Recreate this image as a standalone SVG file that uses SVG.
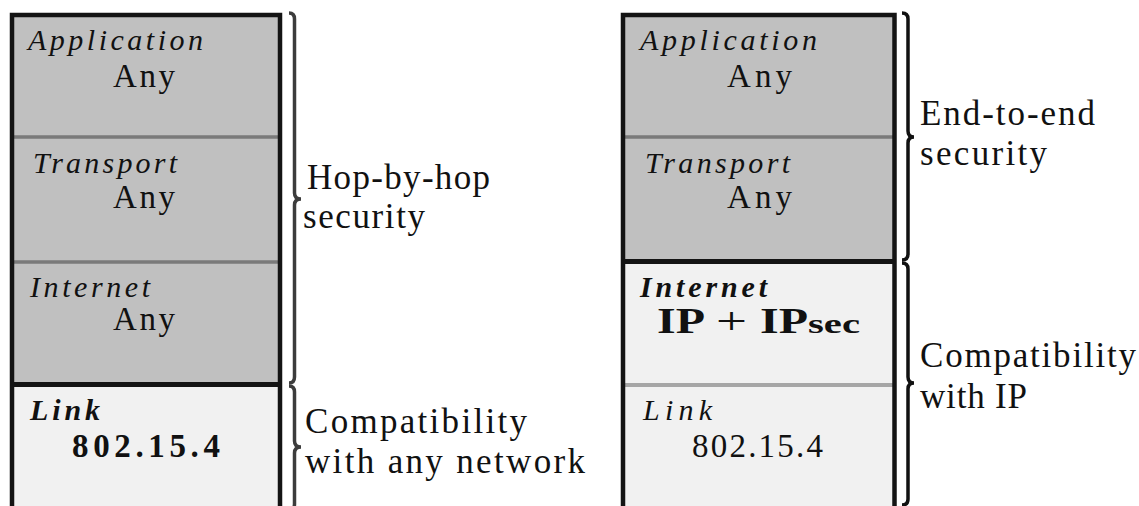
<svg xmlns="http://www.w3.org/2000/svg" width="1139" height="506" viewBox="0 0 1139 506">
  <style>
    .t { font-family: "Liberation Serif", "DejaVu Serif", serif; fill: #111; }
    .lbl { font-size: 30px; font-style: italic; }
    .lblb { font-size: 30px; font-style: italic; font-weight: bold; }
    .val { font-size: 33px; }
    .valb { font-size: 33px; font-weight: bold; }
    .ipsec { font-size: 35px; font-weight: bold; }
    .plus { font-size: 38px; }
    .small { font-size: 27px; font-weight: bold; }
    .note { font-size: 35px; }
    .dark { fill: #c0c0c0; }
    .light { fill: #f1f1f1; }
    .div-soft { stroke: #7a7a7a; stroke-width: 3.5; }
    .div-pale { stroke: #a6a6a6; stroke-width: 4; }
    .div-hard { stroke: #141414; stroke-width: 5; }
    .frame { fill: none; stroke: #141414; stroke-width: 4.5; }
    .brace-l { fill: none; stroke: #3c3c3c; stroke-width: 3.5; }
    .brace-r { fill: none; stroke: #111; stroke-width: 3.5; }
  </style>

  <rect x="0" y="0" width="1139" height="506" fill="#ffffff"/>

  <!-- Left protocol stack: hop-by-hop security -->
  <g id="left-stack">
    <g id="left-application">
      <rect class="dark" x="12" y="15" width="268" height="122"/>
      <text class="t lbl" x="28" y="50" textLength="175" lengthAdjust="spacing">Application</text>
      <text class="t val" x="113" y="87" textLength="62" lengthAdjust="spacing">Any</text>
    </g>
    <g id="left-transport">
      <rect class="dark" x="12" y="137" width="268" height="125"/>
      <text class="t lbl" x="33" y="173" textLength="144" lengthAdjust="spacing">Transport</text>
      <text class="t val" x="113" y="208" textLength="62" lengthAdjust="spacing">Any</text>
    </g>
    <g id="left-internet">
      <rect class="dark" x="12" y="262" width="268" height="122"/>
      <text class="t lbl" x="30" y="297" textLength="120" lengthAdjust="spacing">Internet</text>
      <text class="t val" x="113" y="330" textLength="62" lengthAdjust="spacing">Any</text>
    </g>
    <g id="left-link">
      <rect class="light" x="12" y="384" width="268" height="140"/>
      <text class="t lblb" x="30" y="420" textLength="70" lengthAdjust="spacing">Link</text>
      <text class="t valb" x="72" y="457" textLength="148" lengthAdjust="spacing">802.15.4</text>
    </g>
    <line class="div-soft" x1="12" y1="137" x2="280" y2="137"/>
    <line class="div-soft" x1="12" y1="262" x2="280" y2="262"/>
    <line class="div-hard" x1="12" y1="384.5" x2="280" y2="384.5"/>
    <rect class="frame" x="12" y="15" width="268" height="520"/>
  </g>

  <!-- Right protocol stack: end-to-end security -->
  <g id="right-stack">
    <g id="right-application">
      <rect class="dark" x="623" y="15" width="271.5" height="122"/>
      <text class="t lbl" x="640" y="50" textLength="177" lengthAdjust="spacing">Application</text>
      <text class="t val" x="727" y="87" textLength="65" lengthAdjust="spacing">Any</text>
    </g>
    <g id="right-transport">
      <rect class="dark" x="623" y="137" width="271.5" height="124.5"/>
      <text class="t lbl" x="645" y="173" textLength="145" lengthAdjust="spacing">Transport</text>
      <text class="t val" x="727" y="208" textLength="65" lengthAdjust="spacing">Any</text>
    </g>
    <g id="right-internet">
      <rect class="light" x="623" y="261.5" width="271.5" height="123.5"/>
      <text class="t lblb" x="640" y="297" textLength="127" lengthAdjust="spacing">Internet</text>
      <!-- "IP + IPsec", each piece set to its own width -->
      <text class="t ipsec" x="657" y="333" textLength="48" lengthAdjust="spacingAndGlyphs">IP</text>
      <text class="t plus" x="716" y="334" textLength="31" lengthAdjust="spacingAndGlyphs">+</text>
      <text class="t ipsec" x="760" y="333" textLength="48" lengthAdjust="spacingAndGlyphs">IP</text>
      <text class="t small" x="808" y="333" textLength="52" lengthAdjust="spacingAndGlyphs">sec</text>
    </g>
    <g id="right-link">
      <rect class="light" x="623" y="385" width="271.5" height="140"/>
      <text class="t lbl" x="643" y="420" textLength="69" lengthAdjust="spacing">Link</text>
      <text class="t val" x="692" y="457" textLength="131" lengthAdjust="spacing">802.15.4</text>
    </g>
    <line class="div-soft" x1="623" y1="137" x2="894.5" y2="137"/>
    <line class="div-hard" x1="623" y1="261.5" x2="894.5" y2="261.5"/>
    <line class="div-pale" x1="623" y1="385" x2="894.5" y2="385"/>
    <rect class="frame" x="623" y="15" width="271.5" height="520"/>
  </g>

  <!-- Curly braces grouping the layers -->
  <g id="braces">
    <path class="brace-l" d="M 289,13 Q 294.5,13 294.5,19 L 294.5,193 Q 294.5,199 301,199 Q 294.5,199 294.5,205 L 294.5,377 Q 294.5,383 289,383"/>
    <path class="brace-l" d="M 289,386 Q 294.5,386 294.5,392 L 294.5,441 Q 294.5,447 301,447 Q 294.5,447 294.5,453 L 294.5,504 Q 294.5,510 289,510"/>
    <path class="brace-r" d="M 902,13 Q 908,13 908,19 L 908,131 Q 908,137 914,137 Q 908,137 908,143 L 908,254 Q 908,260 902,260"/>
    <path class="brace-r" d="M 902,263 Q 908,263 908,269 L 908,377 Q 908,383 914,383 Q 908,383 908,389 L 908,499 Q 908,505 902,505"/>
  </g>

  <!-- Brace annotations -->
  <g id="note-hop-by-hop">
    <text class="t note" x="307" y="189" textLength="183" lengthAdjust="spacing">Hop-by-hop</text>
    <text class="t note" x="303" y="228" textLength="122" lengthAdjust="spacing">security</text>
  </g>
  <g id="note-any-network">
    <text class="t note" x="305" y="433" textLength="222" lengthAdjust="spacing">Compatibility</text>
    <text class="t note" x="305" y="473" textLength="280" lengthAdjust="spacing">with any network</text>
  </g>
  <g id="note-end-to-end">
    <text class="t note" x="920" y="125" textLength="175" lengthAdjust="spacing">End-to-end</text>
    <text class="t note" x="920" y="165" textLength="127" lengthAdjust="spacing">security</text>
  </g>
  <g id="note-ip">
    <text class="t note" x="920" y="367" textLength="216" lengthAdjust="spacing">Compatibility</text>
    <text class="t note" x="920" y="408" textLength="107" lengthAdjust="spacing">with IP</text>
  </g>
</svg>
